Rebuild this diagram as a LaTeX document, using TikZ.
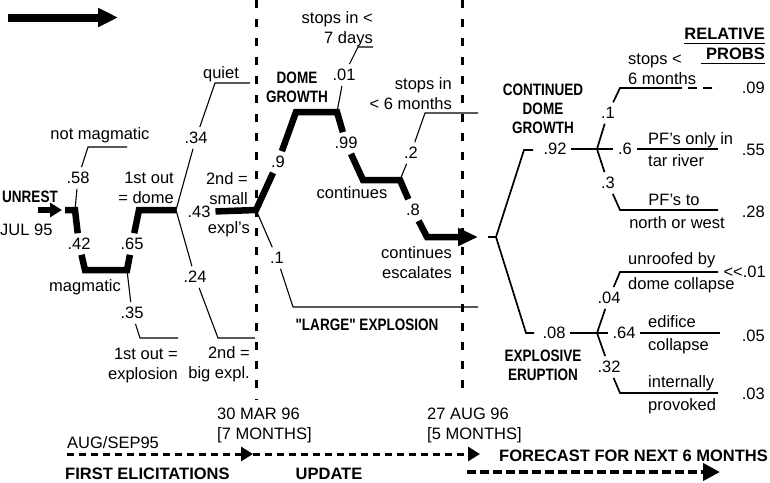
\documentclass[tikz,border=0pt]{standalone}
\usepackage{fontspec}
\setmainfont{Liberation Sans}
\newfontfamily\condsf[FakeStretch=0.82]{Liberation Sans}
\usetikzlibrary{arrows.meta}

\begin{document}
\begin{tikzpicture}[
  x=1pt, y=-1pt,
  font=\fontsize{16.5}{20}\selectfont,
  prob/.style={inner sep=1pt, outer sep=4pt},
  txt/.style={inner sep=0pt, text height=12pt, text depth=0pt},
  para/.style={inner sep=0pt},
  hdtxt/.style={inner sep=0pt, align=center, font=\fontsize{16.5}{19}\selectfont\condsf\bfseries},
  boldtxt/.style={inner sep=0pt, text height=12pt, text depth=0pt, font=\fontsize{16.5}{20}\selectfont\bfseries},
  twig/.style={line width=1.1pt},
  trunk/.style={line width=6.5pt},
  limb/.style={line width=1.7pt},
  firm/.style={line width=2.6pt},
  epoch/.style={line width=3pt, dash pattern=on 8pt off 11pt},
  stage/.style={line width=3pt, dash pattern=on 7pt off 5pt, -{Triangle[length=12pt,width=14pt]}}
]
\useasboundingbox (0,0) rectangle (770,482);

% time boundaries
\coordinate (v1a) at (256,0);   \coordinate (v1b) at (256,400);
\coordinate (v2a) at (462,0);   \coordinate (v2b) at (462,398);
\draw[epoch] (v1a) -- (v1b);
\draw[epoch] (v2a) -- (v2b);

% top arrow
\coordinate (ta) at (8,17.5); \coordinate (tb) at (118,17.5);
\draw[line width=8pt, -{Triangle[length=20pt,width=18pt]}] (ta) -- (tb);

% branch points
\coordinate (ua) at (38,210);  \coordinate (ub) at (62,210);
\coordinate (a0) at (65,210);  \coordinate (A) at (75,210);
\coordinate (M) at (85,270);   \coordinate (N) at (127,270);
\coordinate (B0) at (139,210); \coordinate (B) at (176,210);
\coordinate (C) at (256,210);
\coordinate (D0) at (296,112); \coordinate (D) at (337,112);
\coordinate (E0) at (363,180); \coordinate (E) at (400,180);
\coordinate (F0) at (427,237); \coordinate (tip) at (478,237);
\coordinate (f0) at (488,237); \coordinate (F) at (496,237);
\coordinate (g0) at (524,150); \coordinate (g1) at (533,150);
\coordinate (h0) at (526,333); \coordinate (h1) at (534,333);
\coordinate (G) at (597,149);  \coordinate (H) at (597,333);

% branch ends
\coordinate (c58) at (88,147);  \coordinate (e58) at (127,147);
\coordinate (c35) at (140,338); \coordinate (e35) at (178,338);
\coordinate (c34) at (215,83);  \coordinate (e34) at (250,83);
\coordinate (c24) at (218,338); \coordinate (e24) at (255,338);
\coordinate (c1) at (293,307);  \coordinate (e1) at (478,307);
\coordinate (c01) at (358,47);  \coordinate (e01) at (373,47);
\coordinate (c2) at (425,113);  \coordinate (e2) at (478,113);
\coordinate (c1b) at (620,88);  \coordinate (e1b) at (673,88); \coordinate (d1b) at (718,88);
\coordinate (e6) at (718,149);
\coordinate (c3) at (620,210);  \coordinate (e3) at (718,210);
\coordinate (c04) at (620,272); \coordinate (e04) at (718,272);
\coordinate (e64) at (720,333);
\coordinate (c32) at (620,393); \coordinate (e32) at (718,393);

% probabilities
\node[prob] (p58) at (78,178) {.58};
\node[prob] (p42) at (79,244) {.42};
\node[prob] (p65) at (132,244) {.65};
\node[prob] (p35) at (132,313) {.35};
\node[prob] (p34) at (196,138) {.34};
\node[prob] (p24) at (195,277) {.24};
\node[prob] (p43) at (199,212) {.43};
\node[prob] (p9) at (278,162) {.9};
\node[prob] (p1) at (277,258) {.1};
\node[prob] (p01) at (344,75) {.01};
\node[prob] (p99) at (346,143) {.99};
\node[prob] (p2) at (411,153) {.2};
\node[prob] (p8) at (413,210) {.8};
\node[prob] (p92) at (555,149) {.92};
\node[prob] (p08) at (554,333) {.08};
\node[prob] (q1) at (608,113) {.1};
\node[prob] (p6) at (625,149) {.6};
\node[prob] (p3) at (608,183) {.3};
\node[prob] (p04) at (609,298) {.04};
\node[prob] (p64) at (624,333) {.64};
\node[prob] (p32) at (609,367) {.32};

% left tree
\draw[line width=6pt, -{Triangle[length=12pt,width=14pt]}] (ua) -- (ub);
\draw[twig] (A) -- (p58) -- (c58) -- (e58);
\draw[twig] (N) -- (p35) -- (c35) -- (e35);
\draw[twig] (B) -- (p34) -- (c34) -- (e34);
\draw[twig] (B) -- (p24) -- (c24) -- (e24);
\draw[twig] (C) -- (p1) -- (c1) -- (e1);
\draw[twig] (D) -- (p01) -- (c01) -- (e01);
\draw[twig] (E) -- (p2) -- (c2) -- (e2);
\draw[trunk] (a0) -- (A) -- (p42);
\draw[trunk] (p42) -- (M) -- (N) -- (p65);
\draw[trunk] (p65) -- (B0) -- (B);
\draw[trunk] (p43) -- (C) -- (p9);
\draw[trunk] (p9) -- (D0) -- (D) -- (p99);
\draw[trunk] (p99) -- (E0) -- (E) -- (p8);
\draw[trunk, -{Triangle[length=20pt,width=17pt]}] (p8) -- (F0) -- (tip);

% forecast tree
\draw[limb] (f0) -- (F) -- (g0) -- (g1);
\draw[limb] (F) -- (h0) -- (h1);
\draw[limb] (p92) -- (G) -- (p6);
\draw[limb] (p08) -- (H) -- (p64);
\draw[limb] (G) -- (q1) -- (c1b) -- (e1b);
\draw[limb, line width=2.6pt, dash pattern=on 9pt off 6pt] (e1b) -- (d1b);
\draw[firm] (p6) -- (e6);
\draw[limb] (G) -- (p3) -- (c3) -- (e3);
\draw[limb] (H) -- (p04) -- (c04) -- (e04);
\draw[firm] (p64) -- (e64);
\draw[limb] (H) -- (p32) -- (c32) -- (e32);

% texts, left
\node[hdtxt, anchor=east] (unrest) at (58,197) {UNREST};
\node[txt, anchor=west] (jul) at (0,229) {JUL 95};
\node[txt] (notmag) at (100,133) {not magmatic};
\node[txt] (mag) at (85,285) {magmatic};
\node[para, align=right, anchor=north east] (dome1) at (174,172) {1st out\\= dome};
\node[para, align=right, anchor=north east] (expl1) at (178,348) {1st out =\\explosion};
\node[txt] (quiet) at (221,72) {quiet};
\node[para, align=right, anchor=north east] (small2) at (248,172) {2nd =\\small};
\node[txt, anchor=east] (expls) at (250,227) {expl’s};
\node[para, align=right, anchor=north east] (big2) at (250,346) {2nd =\\big expl.};

% texts, update
\node[hdtxt, anchor=north] (domegr) at (297,72) {DOME\\GROWTH};
\node[para, align=right, anchor=north east] (stop7) at (373,11) {stops in <\\7 days};
\node[txt] (cont1) at (352,192) {continues};
\node[para, align=right, anchor=north east] (stop6) at (452,77) {stops in\\< 6 months};
\node[para, align=right, anchor=north east] (cont2) at (452,246) {continues\\escalates};
\node[hdtxt] (large) at (367,325) {"LARGE" EXPLOSION};

% texts, forecast
\node[hdtxt, anchor=north] (contdome) at (543,84) {CONTINUED\\DOME\\GROWTH};
\node[hdtxt, anchor=north] (explerupt) at (543,350) {EXPLOSIVE\\ERUPTION};
\node[boldtxt, anchor=east] (rel) at (765,33) {RELATIVE};
\node[boldtxt, anchor=east] (probs) at (765,53) {PROBS};
\draw[line width=1.3pt] ([yshift=-4pt]rel.south west) -- ([yshift=-4pt]rel.south east);
\draw[line width=1.3pt] ([xshift=-5pt,yshift=-4pt]probs.south west) -- ([yshift=-4pt]probs.south east);
\node[para, align=left, anchor=north west] (stops) at (628,54) {stops <\\6 months};
\node[txt, anchor=west] (pfonly) at (648,138) {PF’s only in};
\node[txt, anchor=west] (tar) at (648,160) {tar river};
\node[txt] (pfto) at (674,199) {PF’s to};
\node[txt] (north) at (677,222) {north or west};
\node[txt, anchor=west] (unroof) at (628,258) {unroofed by};
\node[txt, anchor=west] (domecol) at (628,283) {dome collapse};
\node[txt, anchor=west] (edif) at (648,321) {edifice};
\node[txt, anchor=west] (collapse) at (648,344) {collapse};
\node[txt, anchor=west] (intern) at (648,381) {internally};
\node[txt, anchor=west] (provoked) at (648,404) {provoked};
\node[txt, anchor=east] (r09) at (765,87) {.09};
\node[txt, anchor=east] (r55) at (765,149) {.55};
\node[txt, anchor=east] (r28) at (765,211) {.28};
\node[txt, anchor=east] (r01) at (766,271) {<{}<.01};
\node[txt, anchor=east] (r05) at (765,335) {.05};
\node[txt, anchor=east] (r03) at (765,393) {.03};

% time line
\coordinate (t0) at (67,454); \coordinate (t1) at (253,454); \coordinate (t2) at (480,454);
\coordinate (t3) at (467,472); \coordinate (t4) at (720,472);
\draw[stage] (t0) -- (t1);
\draw[stage] (t1) -- (t2);
\draw[line width=4pt, dash pattern=on 9pt off 4pt, -{Triangle[length=17pt,width=17pt]}] (t3) -- (t4);
\node[para, align=left, anchor=north west] (mar96) at (217,408) {30 MAR 96\\{}[7 MONTHS]};
\node[para, align=left, anchor=north west] (aug96) at (427,408) {27 AUG 96\\{}[5 MONTHS]};
\node[txt, anchor=west] (augsep) at (67,442) {AUG/SEP95};
\node[boldtxt, anchor=west] (first) at (65,473) {FIRST ELICITATIONS};
\node[boldtxt] (update) at (329,473) {UPDATE};
\node[boldtxt, anchor=east] (forecast) at (768,455) {FORECAST FOR NEXT 6 MONTHS};
\end{tikzpicture}
\end{document}
